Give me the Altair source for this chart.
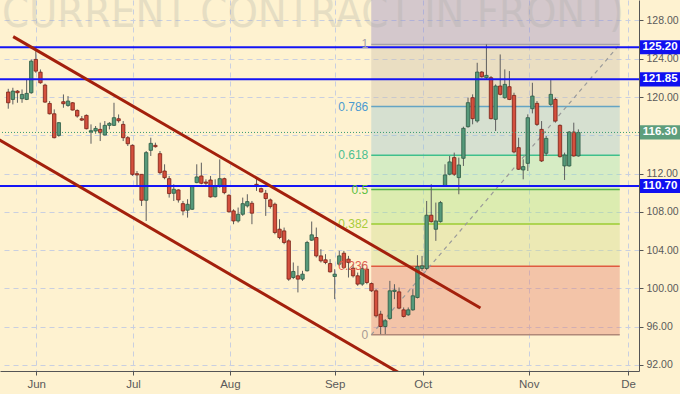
import altair as alt
import pandas as pd

# ---------------- data ----------------
opens = [120.52, 119.75, 120.62, 119.82, 119.75, 120.45, 123.93, 122.60, 121.25, 119.33,
         118.25, 115.99, 119.51, 119.12, 119.40, 118.60, 117.73, 118.08, 116.34, 116.45,
         116.62, 116.03, 117.04, 117.04, 117.73, 117.14, 115.75, 114.95, 111.99, 111.92,
         109.21, 114.43, 114.95, 114.08, 112.27, 111.47, 109.94, 110.29, 108.86, 108.17,
         108.27, 111.06, 111.75, 111.12, 111.33, 109.59, 110.64, 111.47, 109.73, 108.10,
         107.05, 107.75, 108.62, 108.90, 110.88, 110.43, 109.94, 109.25, 108.80, 106.19,
         106.01, 104.97, 101.14, 101.32, 100.97, 101.84, 105.04, 105.32, 103.40, 102.99,
         102.60, 101.25, 102.53, 103.68, 103.06, 102.12, 101.32, 100.45, 102.01, 100.51,
         99.75, 97.31, 96.02, 96.86, 99.68, 99.64, 97.76, 97.24, 97.76, 99.05,
         102.08, 102.08, 107.65, 106.18, 106.98, 110.71, 111.93, 113.67, 111.58, 113.60,
         116.90, 119.93, 117.50, 122.61, 122.02, 122.02, 117.67, 121.15, 119.93, 121.08,
         120.17, 114.71, 112.38, 113.07, 118.78, 119.34, 116.62, 114.12, 119.23, 119.75,
         117.04, 112.80, 112.80, 116.34, 113.84]
highs = [120.86, 120.97, 120.73, 120.79, 121.84, 123.93, 124.80, 122.88, 121.39, 119.58,
         118.71, 117.38, 120.27, 120.10, 119.47, 118.71, 118.01, 118.18, 117.14, 116.97,
         117.32, 117.49, 117.38, 119.40, 118.18, 117.49, 115.92, 115.06, 112.27, 111.92,
         114.36, 115.75, 115.23, 114.36, 112.97, 111.75, 110.88, 110.36, 109.14, 109.32,
         110.78, 112.97, 113.14, 111.40, 111.75, 111.40, 113.49, 111.58, 109.84, 108.27,
         108.45, 109.49, 109.84, 109.14, 111.41, 110.54, 110.29, 109.39, 108.97, 107.23,
         106.36, 105.14, 102.71, 102.36, 101.84, 104.97, 106.99, 106.36, 104.10, 103.58,
         103.06, 102.01, 103.93, 103.93, 103.40, 102.53, 101.66, 102.53, 102.18, 100.62,
         99.92, 97.66, 96.79, 100.79, 100.44, 100.09, 98.01, 98.01, 99.92, 103.47,
         103.40, 109.14, 110.89, 108.97, 109.14, 112.97, 113.84, 114.19, 113.67, 116.90,
         119.93, 120.28, 123.58, 122.71, 125.50, 122.19, 121.32, 124.45, 122.89, 122.71,
         120.45, 115.75, 113.49, 118.19, 121.49, 119.58, 117.49, 115.93, 121.77, 119.93,
         117.14, 114.19, 116.45, 117.32, 116.62]
lows = [118.78, 119.23, 119.40, 119.40, 119.68, 120.34, 122.53, 121.39, 119.40, 118.18,
        115.68, 115.85, 118.88, 118.98, 118.60, 117.84, 117.49, 116.62, 115.12, 116.17,
        115.40, 115.99, 116.62, 116.97, 117.32, 115.40, 114.88, 111.75, 110.71, 108.62,
        107.05, 113.84, 114.71, 111.92, 111.40, 109.49, 109.14, 108.97, 107.64, 107.40,
        108.20, 110.99, 110.88, 110.71, 109.49, 109.49, 110.53, 109.84, 107.92, 106.71,
        106.88, 107.58, 108.45, 106.71, 110.19, 110.01, 107.58, 108.34, 105.66, 105.14,
        104.62, 100.79, 100.97, 99.58, 100.79, 101.77, 104.97, 103.23, 102.71, 102.53,
        101.66, 98.88, 102.36, 102.01, 101.14, 101.14, 100.27, 100.27, 100.44, 99.64,
        96.96, 95.22, 95.22, 96.72, 98.88, 97.83, 96.96, 97.14, 97.66, 98.95,
        101.84, 101.90, 106.88, 104.97, 106.88, 110.64, 111.82, 111.75, 109.84, 112.80,
        116.80, 117.15, 117.32, 122.02, 121.84, 117.67, 116.45, 120.17, 119.82, 119.68,
        114.12, 112.38, 111.40, 112.27, 118.29, 116.97, 113.21, 113.84, 119.06, 117.32,
        113.67, 111.33, 112.73, 113.77, 113.77]
closes = [119.40, 120.62, 120.45, 120.27, 120.38, 123.75, 122.71, 121.49, 119.47, 118.25,
          115.75, 117.32, 119.30, 119.58, 118.64, 118.01, 117.59, 116.69, 116.48, 116.72,
          116.27, 117.04, 117.25, 117.84, 117.52, 115.75, 115.12, 111.92, 111.86, 109.21,
          114.19, 115.16, 114.81, 112.10, 111.58, 109.91, 110.36, 109.25, 108.10, 108.79,
          110.71, 111.65, 110.99, 110.99, 109.56, 110.64, 111.47, 110.01, 108.01, 107.05,
          107.75, 108.86, 109.07, 107.86, 110.78, 110.08, 109.39, 108.55, 105.84, 105.32,
          104.80, 100.97, 101.77, 100.97, 101.49, 104.80, 105.60, 103.40, 102.88, 102.71,
          101.73, 101.49, 103.40, 102.19, 102.71, 101.32, 100.45, 102.08, 100.62, 99.75,
          97.14, 96.02, 96.62, 99.75, 99.82, 97.94, 97.07, 97.76, 99.23, 102.29,
          102.36, 107.65, 106.98, 107.05, 108.97, 111.86, 113.22, 111.93, 112.90, 116.73,
          119.41, 117.74, 122.61, 122.12, 122.26, 117.74, 121.15, 120.28, 121.32, 119.75,
          114.26, 112.45, 112.73, 117.84, 120.10, 117.14, 113.32, 115.68, 120.28, 117.49,
          113.77, 113.94, 116.34, 113.84, 116.30]

month_pos = [6.08, 27.13, 48.2, 71.0, 90.15, 113.2, 134.8]
month_names = ["Jun", "Jul", "Aug", "Sep", "Oct", "Nov", "De"]
price_ticks = [92, 96, 100, 104, 108, 112, 116, 120, 124, 128]

level_lines = [125.20, 121.85, 110.70]
last_price = 116.30

fib_low = 95.15
fib_high = 125.5
fib_x = [78.95, 133.0]
fib_levels = [0, 0.236, 0.382, 0.5, 0.618, 0.786, 1]
fib_labels = ["0", "0.236", "0.382", "0.5", "0.618", "0.786", "1"]
fib_top_level = 1.618

channel_upper_x = [1.07, 102.7]
channel_upper_y = [126.31, 97.96]
channel_lower_x = [-3.0, 86.0]
channel_lower_y = [115.82, 90.9]

watermark = "CURRENT CONTRACT IN FRONT)"

# ---------------- styles ----------------
BG = "#fef2d0"
GRID = "#c9cfe0"
fib_line_colors = ["#b08878", "#e05a40", "#9ccc32", "#52b043", "#3fbf8c", "#64a4c4", "#a4a0a8"]
fib_text_colors = ["#a89a94", "#e06050", "#a8cc3a", "#5cbf40", "#4cc090", "#4a9ad0", "#a4a0a8"]
fib_zone_colors = ["#df6f5e", "#cbdb80", "#9de175", "#8ce1ae", "#8cbfd0", "#c5b9a8", "#867ac7"]

xs = alt.Scale(domain=[-0.707, 136.1], nice=False, zero=False)
ys = alt.Scale(domain=[91.37, 130.14], nice=False, zero=False)

# ---------------- tables ----------------
n = len(opens)
candles = pd.DataFrame({"i": list(range(n)), "open": opens, "high": highs,
                        "low": lows, "close": closes})
candles["dir"] = ["up" if c >= o else "down" for o, c in zip(opens, closes)]

span = fib_high - fib_low
zone_levels = fib_levels + [fib_top_level]
zone_ids = ["z" + str(k) for k in range(len(fib_levels))]
zones = pd.DataFrame({
    "zone": zone_ids,
    "y0": [fib_low + zone_levels[k] * span for k in range(len(fib_levels))],
    "y1": [fib_low + zone_levels[k + 1] * span for k in range(len(fib_levels))],
    "x0": [fib_x[0]] * len(fib_levels),
    "x1": [fib_x[1]] * len(fib_levels),
})
fibs = pd.DataFrame({
    "lab": fib_labels,
    "y": [fib_low + l * span for l in fib_levels],
    "x0": [fib_x[0]] * len(fib_levels),
    "x1": [fib_x[1]] * len(fib_levels),
})
fib_diag = pd.DataFrame({"x": fib_x, "y": [fib_low, fib_high]})
channels = pd.DataFrame({
    "line": ["u", "u", "l", "l"],
    "x": channel_upper_x + channel_lower_x,
    "y": channel_upper_y + channel_lower_y,
})
hl = pd.DataFrame({"p": level_lines})
tags = pd.DataFrame({"p": level_lines + [last_price],
                     "kind": ["lvl"] * len(level_lines) + ["last"]})
tags["top"] = tags["p"] + 0.74
tags["bot"] = tags["p"] - 0.74

# ---------------- axes ----------------
label_expr = "''"
for pos, name in reversed(list(zip(month_pos, month_names))):
    label_expr = f"abs(datum.value - {pos}) < 0.5 ? '{name}' : {label_expr}"

x_axis = alt.Axis(values=month_pos, labelExpr=label_expr, title=None, grid=True,
                  gridDash=[5, 4], gridColor=GRID, gridWidth=1, tickSize=4,
                  tickColor="#555555", domainColor="#555555", labelFontSize=11.5,
                  labelColor="#5a5a5a", labelFont="Liberation Sans", labelPadding=3,
                  labelFlush=False, labelOverlap=False, labelBound=False)
y_axis = alt.Axis(orient="right", values=price_ticks, format=".2f", title=None, grid=True,
                  gridDash=[5, 4], gridColor=GRID, gridWidth=1, tickSize=4,
                  tickColor="#555555", domainColor="#555555", labelFontSize=10.5,
                  labelColor="#5a5a5a", labelFont="Liberation Sans", labelPadding=3,
                  labelOverlap=False, labelFlush=False)


def X(field):
    return alt.X(field, scale=xs, axis=x_axis)


def Y(field):
    return alt.Y(field, scale=ys, axis=y_axis)


# ---------------- layers ----------------
zone_layer = alt.Chart(zones).mark_rect(fillOpacity=0.35, clip=True).encode(
    x=X("x0:Q"), x2="x1:Q", y=Y("y0:Q"), y2="y1:Q",
    fill=alt.Fill("zone:N", scale=alt.Scale(domain=zone_ids, range=fib_zone_colors), legend=None),
)

wm_layer = alt.Chart(pd.DataFrame({"t": [watermark]})).mark_text(
    align="left", baseline="alphabetic", fontSize=43,
    font="Liberation Sans Narrow, DejaVu Sans Condensed, sans-serif",
    color="#a9aba5", opacity=0.28).encode(
    x=alt.value(2), y=alt.value(27), text="t:N")

fib_line_layer = alt.Chart(fibs).mark_rule(strokeWidth=1.5).encode(
    x=X("x0:Q"), x2="x1:Q", y=Y("y:Q"),
    color=alt.Color("lab:N", scale=alt.Scale(domain=fib_labels, range=fib_line_colors), legend=None),
)
fib_text_layer = alt.Chart(fibs).mark_text(
    align="right", baseline="middle", dx=-3, fontSize=12, font="Liberation Sans").encode(
    x=X("x0:Q"), y=Y("y:Q"), text="lab:N",
    color=alt.Color("lab:N", scale=alt.Scale(domain=fib_labels, range=fib_text_colors), legend=None),
)
fib_diag_layer = alt.Chart(fib_diag).mark_line(
    color="#9a9a9a", strokeDash=[4, 4], strokeWidth=1.2).encode(x=X("x:Q"), y=Y("y:Q"))

wick_layer = alt.Chart(candles).mark_rule(color="#5e5e5e", strokeWidth=1).encode(
    x=X("i:Q"), y=Y("low:Q"), y2="high:Q")

body_layer = alt.Chart(candles).mark_bar(size=3.4, strokeWidth=0.8).encode(
    x=X("i:Q"), y=Y("open:Q"), y2="close:Q",
    fill=alt.Fill("dir:N", scale=alt.Scale(domain=["up", "down"], range=["#56997a", "#d4503e"]), legend=None),
    stroke=alt.Stroke("dir:N", scale=alt.Scale(domain=["up", "down"], range=["#2c5a44", "#7a2014"]), legend=None),
)

hline_layer = alt.Chart(hl).mark_rule(color="#1414f5", strokeWidth=2).encode(y=Y("p:Q"))
last_layer = alt.Chart(pd.DataFrame({"p": [last_price]})).mark_rule(
    color="#3a9a70", strokeDash=[1, 2], strokeWidth=1).encode(y=Y("p:Q"))

channel_layer = alt.Chart(channels).mark_line(color="#a3200c", strokeWidth=3, clip=True).encode(
    x=X("x:Q"), y=Y("y:Q"), detail="line:N")

tag_rect = alt.Chart(tags).mark_rect().encode(
    x=alt.value(640), x2=alt.value(681), y=Y("top:Q"), y2="bot:Q",
    fill=alt.Fill("kind:N", scale=alt.Scale(domain=["lvl", "last"], range=["#1010f0", "#5e9e7c"]), legend=None),
)
tag_text = alt.Chart(tags).mark_text(
    align="center", baseline="middle", color="white", fontWeight="bold", fontSize=11.5,
    font="Liberation Sans").encode(
    x=alt.value(660), y=Y("p:Q"), text=alt.Text("p:Q", format=".2f"))

chart = alt.layer(
    zone_layer, wm_layer, fib_line_layer, fib_diag_layer, wick_layer, body_layer,
    hline_layer, last_layer, fib_text_layer, channel_layer, tag_rect, tag_text,
).resolve_scale(
    color="independent", fill="independent", stroke="independent",
).properties(
    width=639, height=371,
    padding={"left": 0, "top": 0, "right": 41, "bottom": 23},
    autosize=alt.AutoSizeParams(type="none"),
).configure(background=BG).configure_view(stroke=None, fill=BG)

chart.save("out.html", embed_options={"renderer": "svg", "actions": False})
